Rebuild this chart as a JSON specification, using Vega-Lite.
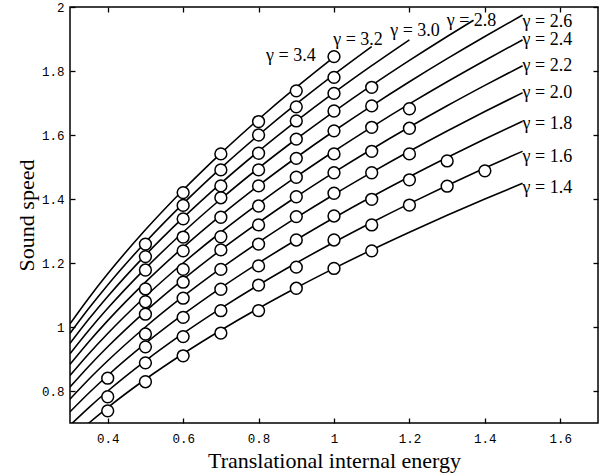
{
  "$schema": "https://vega.github.io/schema/vega-lite/v6.json",
  "width": 528,
  "height": 416,
  "autosize": {"type": "none"},
  "padding": {"left": 70, "top": 7, "right": 12, "bottom": 53},
  "background": "white",
  "config": {
    "view": {"stroke": "black", "strokeWidth": 1.5},
    "axis": {
      "domain": false, "grid": false, "offset": -5,
      "ticks": true, "tickColor": "black", "tickSize": 5, "tickWidth": 1.3,
      "labelFont": "Liberation Mono", "labelFontSize": 12.5, "labelColor": "black",
      "titleFont": "Liberation Serif", "titleFontSize": 22, "titleFontWeight": "normal", "titleColor": "black"
    }
  },
  "datasets": {
    "curves": [
      {"g":"1.4","e":0.3,"c":0.6481},{"g":"1.4","e":0.35,"c":0.7},{"g":"1.4","e":0.4,"c":0.7483},{"g":"1.4","e":0.5,"c":0.8367},{"g":"1.4","e":0.6,"c":0.9165},{"g":"1.4","e":0.7,"c":0.9899},{"g":"1.4","e":0.8,"c":1.0583},{"g":"1.4","e":0.9,"c":1.1225},{"g":"1.4","e":1.0,"c":1.1832},{"g":"1.4","e":1.1,"c":1.241},{"g":"1.4","e":1.2,"c":1.2961},{"g":"1.4","e":1.3,"c":1.3491},{"g":"1.4","e":1.4,"c":1.4},{"g":"1.4","e":1.5,"c":1.4491},
      {"g":"1.6","e":0.3,"c":0.6928},{"g":"1.6","e":0.35,"c":0.7483},{"g":"1.6","e":0.4,"c":0.8},{"g":"1.6","e":0.5,"c":0.8944},{"g":"1.6","e":0.6,"c":0.9798},{"g":"1.6","e":0.7,"c":1.0583},{"g":"1.6","e":0.8,"c":1.1314},{"g":"1.6","e":0.9,"c":1.2},{"g":"1.6","e":1.0,"c":1.2649},{"g":"1.6","e":1.1,"c":1.3266},{"g":"1.6","e":1.2,"c":1.3856},{"g":"1.6","e":1.3,"c":1.4422},{"g":"1.6","e":1.4,"c":1.4967},{"g":"1.6","e":1.5,"c":1.5492},
      {"g":"1.8","e":0.3,"c":0.7348},{"g":"1.8","e":0.35,"c":0.7937},{"g":"1.8","e":0.4,"c":0.8485},{"g":"1.8","e":0.5,"c":0.9487},{"g":"1.8","e":0.6,"c":1.0392},{"g":"1.8","e":0.7,"c":1.1225},{"g":"1.8","e":0.8,"c":1.2},{"g":"1.8","e":0.9,"c":1.2728},{"g":"1.8","e":1.0,"c":1.3416},{"g":"1.8","e":1.1,"c":1.4071},{"g":"1.8","e":1.2,"c":1.4697},{"g":"1.8","e":1.3,"c":1.5297},{"g":"1.8","e":1.4,"c":1.5875},{"g":"1.8","e":1.5,"c":1.6432},
      {"g":"2.0","e":0.3,"c":0.7746},{"g":"2.0","e":0.35,"c":0.8367},{"g":"2.0","e":0.4,"c":0.8944},{"g":"2.0","e":0.5,"c":1.0},{"g":"2.0","e":0.6,"c":1.0954},{"g":"2.0","e":0.7,"c":1.1832},{"g":"2.0","e":0.8,"c":1.2649},{"g":"2.0","e":0.9,"c":1.3416},{"g":"2.0","e":1.0,"c":1.4142},{"g":"2.0","e":1.1,"c":1.4832},{"g":"2.0","e":1.2,"c":1.5492},{"g":"2.0","e":1.3,"c":1.6125},{"g":"2.0","e":1.4,"c":1.6733},{"g":"2.0","e":1.5,"c":1.7321},
      {"g":"2.2","e":0.3,"c":0.8124},{"g":"2.2","e":0.35,"c":0.8775},{"g":"2.2","e":0.4,"c":0.9381},{"g":"2.2","e":0.5,"c":1.0488},{"g":"2.2","e":0.6,"c":1.1489},{"g":"2.2","e":0.7,"c":1.241},{"g":"2.2","e":0.8,"c":1.3266},{"g":"2.2","e":0.9,"c":1.4071},{"g":"2.2","e":1.0,"c":1.4832},{"g":"2.2","e":1.1,"c":1.5556},{"g":"2.2","e":1.2,"c":1.6248},{"g":"2.2","e":1.3,"c":1.6912},{"g":"2.2","e":1.4,"c":1.755},{"g":"2.2","e":1.5,"c":1.8166},
      {"g":"2.4","e":0.3,"c":0.8485},{"g":"2.4","e":0.35,"c":0.9165},{"g":"2.4","e":0.4,"c":0.9798},{"g":"2.4","e":0.5,"c":1.0954},{"g":"2.4","e":0.6,"c":1.2},{"g":"2.4","e":0.7,"c":1.2961},{"g":"2.4","e":0.8,"c":1.3856},{"g":"2.4","e":0.9,"c":1.4697},{"g":"2.4","e":1.0,"c":1.5492},{"g":"2.4","e":1.1,"c":1.6248},{"g":"2.4","e":1.2,"c":1.6971},{"g":"2.4","e":1.3,"c":1.7664},{"g":"2.4","e":1.4,"c":1.833},{"g":"2.4","e":1.5,"c":1.8974},
      {"g":"2.6","e":0.3,"c":0.8832},{"g":"2.6","e":0.35,"c":0.9539},{"g":"2.6","e":0.4,"c":1.0198},{"g":"2.6","e":0.5,"c":1.1402},{"g":"2.6","e":0.6,"c":1.249},{"g":"2.6","e":0.7,"c":1.3491},{"g":"2.6","e":0.8,"c":1.4422},{"g":"2.6","e":0.9,"c":1.5297},{"g":"2.6","e":1.0,"c":1.6125},{"g":"2.6","e":1.1,"c":1.6912},{"g":"2.6","e":1.2,"c":1.7664},{"g":"2.6","e":1.3,"c":1.8385},{"g":"2.6","e":1.4,"c":1.9079},{"g":"2.6","e":1.5,"c":1.9748},
      {"g":"2.8","e":0.3,"c":0.9165},{"g":"2.8","e":0.35,"c":0.9899},{"g":"2.8","e":0.4,"c":1.0583},{"g":"2.8","e":0.5,"c":1.1832},{"g":"2.8","e":0.6,"c":1.2961},{"g":"2.8","e":0.7,"c":1.4},{"g":"2.8","e":0.8,"c":1.4967},{"g":"2.8","e":0.9,"c":1.5875},{"g":"2.8","e":1.0,"c":1.6733},{"g":"2.8","e":1.1,"c":1.755},{"g":"2.8","e":1.2,"c":1.833},{"g":"2.8","e":1.3,"c":1.9079},{"g":"2.8","e":1.37,"c":1.9586},
      {"g":"3.0","e":0.3,"c":0.9487},{"g":"3.0","e":0.35,"c":1.0247},{"g":"3.0","e":0.4,"c":1.0954},{"g":"3.0","e":0.5,"c":1.2247},{"g":"3.0","e":0.6,"c":1.3416},{"g":"3.0","e":0.7,"c":1.4491},{"g":"3.0","e":0.8,"c":1.5492},{"g":"3.0","e":0.9,"c":1.6432},{"g":"3.0","e":1.0,"c":1.7321},{"g":"3.0","e":1.1,"c":1.8166},{"g":"3.0","e":1.2,"c":1.8974},
      {"g":"3.2","e":0.3,"c":0.9798},{"g":"3.2","e":0.35,"c":1.0583},{"g":"3.2","e":0.4,"c":1.1314},{"g":"3.2","e":0.5,"c":1.2649},{"g":"3.2","e":0.6,"c":1.3856},{"g":"3.2","e":0.7,"c":1.4967},{"g":"3.2","e":0.8,"c":1.6},{"g":"3.2","e":0.9,"c":1.6971},{"g":"3.2","e":1.0,"c":1.7889},{"g":"3.2","e":1.1,"c":1.8762},
      {"g":"3.4","e":0.3,"c":1.01},{"g":"3.4","e":0.35,"c":1.0909},{"g":"3.4","e":0.4,"c":1.1662},{"g":"3.4","e":0.5,"c":1.3038},{"g":"3.4","e":0.6,"c":1.4283},{"g":"3.4","e":0.7,"c":1.5427},{"g":"3.4","e":0.8,"c":1.6492},{"g":"3.4","e":0.9,"c":1.7493},{"g":"3.4","e":1.0,"c":1.8439}
    ],
    "points": [
      {"g":"1.4","e":0.4,"c":0.738},{"g":"1.6","e":0.4,"c":0.782},{"g":"1.8","e":0.4,"c":0.84},
      {"g":"1.4","e":0.5,"c":0.829},{"g":"1.6","e":0.5,"c":0.888},{"g":"1.8","e":0.5,"c":0.938},{"g":"2.0","e":0.5,"c":0.978},{"g":"2.2","e":0.5,"c":1.04},{"g":"2.4","e":0.5,"c":1.079},{"g":"2.6","e":0.5,"c":1.119},{"g":"2.8","e":0.5,"c":1.178},{"g":"3.0","e":0.5,"c":1.22},{"g":"3.2","e":0.5,"c":1.259},
      {"g":"1.4","e":0.6,"c":0.91},{"g":"1.6","e":0.6,"c":0.97},{"g":"1.8","e":0.6,"c":1.03},{"g":"2.0","e":0.6,"c":1.09},{"g":"2.2","e":0.6,"c":1.14},{"g":"2.4","e":0.6,"c":1.18},{"g":"2.6","e":0.6,"c":1.238},{"g":"2.8","e":0.6,"c":1.281},{"g":"3.0","e":0.6,"c":1.338},{"g":"3.2","e":0.6,"c":1.38},{"g":"3.4","e":0.6,"c":1.42},
      {"g":"1.4","e":0.7,"c":0.981},{"g":"1.6","e":0.7,"c":1.051},{"g":"1.8","e":0.7,"c":1.118},{"g":"2.0","e":0.7,"c":1.18},{"g":"2.2","e":0.7,"c":1.241},{"g":"2.4","e":0.7,"c":1.282},{"g":"2.6","e":0.7,"c":1.343},{"g":"2.8","e":0.7,"c":1.404},{"g":"3.0","e":0.7,"c":1.441},{"g":"3.2","e":0.7,"c":1.491},{"g":"3.4","e":0.7,"c":1.541},
      {"g":"1.4","e":0.8,"c":1.051},{"g":"1.6","e":0.8,"c":1.131},{"g":"1.8","e":0.8,"c":1.191},{"g":"2.0","e":0.8,"c":1.259},{"g":"2.2","e":0.8,"c":1.319},{"g":"2.4","e":0.8,"c":1.378},{"g":"2.6","e":0.8,"c":1.441},{"g":"2.8","e":0.8,"c":1.491},{"g":"3.0","e":0.8,"c":1.543},{"g":"3.2","e":0.8,"c":1.6},{"g":"3.4","e":0.8,"c":1.642},
      {"g":"1.4","e":0.9,"c":1.121},{"g":"1.6","e":0.9,"c":1.187},{"g":"1.8","e":0.9,"c":1.272},{"g":"2.0","e":0.9,"c":1.345},{"g":"2.2","e":0.9,"c":1.407},{"g":"2.4","e":0.9,"c":1.468},{"g":"2.6","e":0.9,"c":1.527},{"g":"2.8","e":0.9,"c":1.587},{"g":"3.0","e":0.9,"c":1.644},{"g":"3.2","e":0.9,"c":1.688},{"g":"3.4","e":0.9,"c":1.738},
      {"g":"1.4","e":1.0,"c":1.183},{"g":"1.6","e":1.0,"c":1.272},{"g":"1.8","e":1.0,"c":1.347},{"g":"2.0","e":1.0,"c":1.418},{"g":"2.2","e":1.0,"c":1.482},{"g":"2.4","e":1.0,"c":1.541},{"g":"2.6","e":1.0,"c":1.613},{"g":"2.8","e":1.0,"c":1.675},{"g":"3.0","e":1.0,"c":1.73},{"g":"3.2","e":1.0,"c":1.78},{"g":"3.4","e":1.0,"c":1.845},
      {"g":"1.4","e":1.1,"c":1.238},{"g":"1.6","e":1.1,"c":1.319},{"g":"1.8","e":1.1,"c":1.399},{"g":"2.0","e":1.1,"c":1.482},{"g":"2.2","e":1.1,"c":1.549},{"g":"2.4","e":1.1,"c":1.624},{"g":"2.6","e":1.1,"c":1.691},{"g":"2.8","e":1.1,"c":1.749},
      {"g":"1.6","e":1.2,"c":1.381},{"g":"1.8","e":1.2,"c":1.46},{"g":"2.0","e":1.2,"c":1.541},{"g":"2.2","e":1.2,"c":1.621},{"g":"2.4","e":1.2,"c":1.682},
      {"g":"1.6","e":1.3,"c":1.44},{"g":"1.8","e":1.3,"c":1.519},
      {"g":"1.6","e":1.4,"c":1.488}
    ],
    "labels": [
      {"e":1.5,"c":1.433,"t":"γ = 1.4"},
      {"e":1.5,"c":1.531,"t":"γ = 1.6"},
      {"e":1.5,"c":1.633,"t":"γ = 1.8"},
      {"e":1.5,"c":1.731,"t":"γ = 2.0"},
      {"e":1.5,"c":1.816,"t":"γ = 2.2"},
      {"e":1.5,"c":1.897,"t":"γ = 2.4"},
      {"e":1.5,"c":1.954,"t":"γ = 2.6"},
      {"e":1.299,"c":1.956,"t":"γ = 2.8"},
      {"e":1.149,"c":1.925,"t":"γ = 3.0"},
      {"e":0.998,"c":1.897,"t":"γ = 3.2"},
      {"e":0.82,"c":1.848,"t":"γ = 3.4"}
    ]
  },
  "layer": [
    {
      "data": {"name": "curves"},
      "mark": {"type": "line", "color": "black", "strokeWidth": 1.6, "interpolate": "monotone", "clip": true},
      "encoding": {
        "x": {"field": "e", "type": "quantitative",
              "scale": {"domain": [0.3, 1.7], "nice": false, "zero": false},
              "axis": {"orient": "bottom", "values": [0.4, 0.6, 0.8, 1.0, 1.2, 1.4, 1.6], "format": "~g", "labelPadding": 9,
                       "title": "Translational internal energy", "titleBaseline": "alphabetic", "titleY": 49}},
        "y": {"field": "c", "type": "quantitative",
              "scale": {"domain": [0.7, 2], "nice": false, "zero": false},
              "axis": {"orient": "left", "values": [0.8, 1.0, 1.2, 1.4, 1.6, 1.8, 2.0], "format": "~g", "labelPadding": 6,
                       "title": "Sound speed", "titleBaseline": "alphabetic", "titleX": -42}},
        "detail": {"field": "g"}
      }
    },
    {
      "data": {"name": "points"},
      "mark": {"type": "point", "shape": "circle", "filled": true, "fill": "white", "stroke": "black", "strokeWidth": 1.5, "size": 140, "opacity": 1},
      "encoding": {
        "x": {"field": "e", "type": "quantitative",
              "axis": {"orient": "top", "values": [0.4, 0.6, 0.8, 1.0, 1.2, 1.4, 1.6], "labels": false, "title": null}},
        "y": {"field": "c", "type": "quantitative",
              "axis": {"orient": "right", "values": [0.8, 1.0, 1.2, 1.4, 1.6, 1.8, 2.0], "labels": false, "title": null}}
      }
    },
    {
      "data": {"name": "labels"},
      "mark": {"type": "text", "font": "Liberation Serif", "fontSize": 18, "align": "left", "baseline": "middle", "color": "black"},
      "encoding": {
        "x": {"field": "e", "type": "quantitative", "axis": null},
        "y": {"field": "c", "type": "quantitative", "axis": null},
        "text": {"field": "t"}
      }
    }
  ],
  "resolve": {"axis": {"x": "independent", "y": "independent"}}
}
